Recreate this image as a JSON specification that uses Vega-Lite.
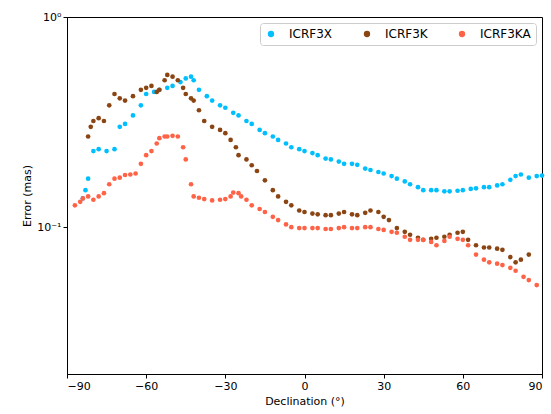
{
  "$schema": "https://vega.github.io/schema/vega-lite/v6.json",
  "width": 475,
  "height": 357,
  "autosize": {"type": "none"},
  "padding": {"left": 67, "top": 17, "right": 9, "bottom": 40},
  "background": "white",
  "datasets": {
    "x": [{"d":-84,"e":0.137},{"d":-83,"e":0.15},{"d":-82,"e":0.17},{"d":-80,"e":0.23},{"d":-78,"e":0.235},{"d":-75,"e":0.23},{"d":-72,"e":0.235},{"d":-70,"e":0.3},{"d":-68,"e":0.31},{"d":-65,"e":0.34},{"d":-62,"e":0.38},{"d":-60,"e":0.43},{"d":-57,"e":0.44},{"d":-55,"e":0.45},{"d":-52,"e":0.46},{"d":-50,"e":0.47},{"d":-47,"e":0.49},{"d":-45,"e":0.51},{"d":-43,"e":0.52},{"d":-42,"e":0.5},{"d":-40,"e":0.45},{"d":-37,"e":0.42},{"d":-35,"e":0.4},{"d":-32,"e":0.38},{"d":-30,"e":0.37},{"d":-27,"e":0.35},{"d":-25,"e":0.34},{"d":-22,"e":0.32},{"d":-20,"e":0.31},{"d":-17,"e":0.29},{"d":-15,"e":0.28},{"d":-12,"e":0.27},{"d":-10,"e":0.26},{"d":-7,"e":0.25},{"d":-5,"e":0.24},{"d":-2,"e":0.235},{"d":0,"e":0.23},{"d":3,"e":0.225},{"d":5,"e":0.22},{"d":8,"e":0.212},{"d":10,"e":0.21},{"d":13,"e":0.205},{"d":15,"e":0.2},{"d":18,"e":0.2},{"d":20,"e":0.198},{"d":23,"e":0.19},{"d":25,"e":0.187},{"d":28,"e":0.183},{"d":30,"e":0.18},{"d":33,"e":0.175},{"d":35,"e":0.17},{"d":38,"e":0.165},{"d":40,"e":0.16},{"d":43,"e":0.155},{"d":45,"e":0.15},{"d":48,"e":0.15},{"d":50,"e":0.15},{"d":53,"e":0.148},{"d":55,"e":0.148},{"d":58,"e":0.149},{"d":60,"e":0.15},{"d":63,"e":0.152},{"d":65,"e":0.153},{"d":68,"e":0.155},{"d":70,"e":0.155},{"d":73,"e":0.158},{"d":75,"e":0.16},{"d":78,"e":0.168},{"d":80,"e":0.175},{"d":82,"e":0.178},{"d":85,"e":0.172},{"d":88,"e":0.175},{"d":90,"e":0.176}],
    "k": [{"d":-82,"e":0.27},{"d":-81,"e":0.3},{"d":-80,"e":0.32},{"d":-78,"e":0.33},{"d":-76,"e":0.32},{"d":-74,"e":0.38},{"d":-72,"e":0.43},{"d":-70,"e":0.41},{"d":-68,"e":0.4},{"d":-65,"e":0.42},{"d":-62,"e":0.45},{"d":-60,"e":0.46},{"d":-58,"e":0.47},{"d":-56,"e":0.44},{"d":-55,"e":0.45},{"d":-53,"e":0.5},{"d":-52,"e":0.53},{"d":-50,"e":0.52},{"d":-48,"e":0.5},{"d":-46,"e":0.46},{"d":-45,"e":0.43},{"d":-43,"e":0.41},{"d":-42,"e":0.4},{"d":-40,"e":0.36},{"d":-38,"e":0.32},{"d":-35,"e":0.3},{"d":-32,"e":0.29},{"d":-30,"e":0.28},{"d":-28,"e":0.26},{"d":-26,"e":0.24},{"d":-25,"e":0.22},{"d":-22,"e":0.21},{"d":-20,"e":0.197},{"d":-18,"e":0.185},{"d":-15,"e":0.167},{"d":-12,"e":0.15},{"d":-10,"e":0.14},{"d":-7,"e":0.132},{"d":-5,"e":0.127},{"d":-2,"e":0.12},{"d":0,"e":0.118},{"d":3,"e":0.116},{"d":5,"e":0.115},{"d":8,"e":0.114},{"d":10,"e":0.114},{"d":13,"e":0.116},{"d":15,"e":0.118},{"d":18,"e":0.115},{"d":20,"e":0.114},{"d":23,"e":0.117},{"d":25,"e":0.12},{"d":28,"e":0.118},{"d":30,"e":0.112},{"d":32,"e":0.108},{"d":35,"e":0.099},{"d":38,"e":0.095},{"d":40,"e":0.092},{"d":43,"e":0.089},{"d":45,"e":0.087},{"d":48,"e":0.088},{"d":50,"e":0.089},{"d":53,"e":0.09},{"d":55,"e":0.092},{"d":58,"e":0.094},{"d":60,"e":0.095},{"d":62,"e":0.087},{"d":65,"e":0.082},{"d":68,"e":0.08},{"d":70,"e":0.08},{"d":73,"e":0.079},{"d":75,"e":0.078},{"d":78,"e":0.072},{"d":80,"e":0.068},{"d":82,"e":0.07},{"d":85,"e":0.074}],
    "ka": [{"d":-87,"e":0.127},{"d":-85,"e":0.132},{"d":-84,"e":0.137},{"d":-82,"e":0.14},{"d":-80,"e":0.135},{"d":-78,"e":0.14},{"d":-76,"e":0.145},{"d":-74,"e":0.16},{"d":-72,"e":0.17},{"d":-70,"e":0.172},{"d":-68,"e":0.177},{"d":-66,"e":0.178},{"d":-64,"e":0.18},{"d":-62,"e":0.2},{"d":-60,"e":0.22},{"d":-58,"e":0.23},{"d":-56,"e":0.25},{"d":-55,"e":0.265},{"d":-53,"e":0.27},{"d":-52,"e":0.27},{"d":-50,"e":0.272},{"d":-48,"e":0.27},{"d":-46,"e":0.24},{"d":-45,"e":0.21},{"d":-43,"e":0.16},{"d":-42,"e":0.14},{"d":-40,"e":0.138},{"d":-38,"e":0.136},{"d":-35,"e":0.134},{"d":-32,"e":0.135},{"d":-30,"e":0.136},{"d":-28,"e":0.14},{"d":-27,"e":0.146},{"d":-25,"e":0.145},{"d":-24,"e":0.14},{"d":-22,"e":0.135},{"d":-20,"e":0.127},{"d":-17,"e":0.122},{"d":-15,"e":0.118},{"d":-12,"e":0.112},{"d":-10,"e":0.108},{"d":-7,"e":0.103},{"d":-5,"e":0.1},{"d":-2,"e":0.099},{"d":0,"e":0.099},{"d":3,"e":0.099},{"d":5,"e":0.099},{"d":8,"e":0.098},{"d":10,"e":0.098},{"d":13,"e":0.099},{"d":15,"e":0.1},{"d":18,"e":0.099},{"d":20,"e":0.099},{"d":23,"e":0.1},{"d":25,"e":0.1},{"d":28,"e":0.098},{"d":30,"e":0.097},{"d":33,"e":0.095},{"d":35,"e":0.094},{"d":38,"e":0.09},{"d":40,"e":0.087},{"d":43,"e":0.087},{"d":45,"e":0.087},{"d":48,"e":0.085},{"d":50,"e":0.082},{"d":53,"e":0.086},{"d":55,"e":0.09},{"d":58,"e":0.088},{"d":60,"e":0.087},{"d":62,"e":0.082},{"d":65,"e":0.074},{"d":68,"e":0.07},{"d":70,"e":0.068},{"d":73,"e":0.067},{"d":75,"e":0.066},{"d":78,"e":0.064},{"d":80,"e":0.062},{"d":83,"e":0.058},{"d":85,"e":0.056},{"d":88,"e":0.053}]
  },
  "encoding": {
    "x": {"field": "d", "type": "quantitative", "title": "Declination (°)",
      "scale": {"domain": [-90, 90], "nice": false},
      "axis": {"values": [-90, -60, -30, 0, 30, 60, 90], "grid": false}},
    "y": {"field": "e", "type": "quantitative", "title": "Error (mas)",
      "scale": {"type": "log", "domain": [0.02, 1], "nice": false},
      "axis": {"values": [0.1, 1], "grid": false, "labelExpr": "datum.value == 1 ? '10⁰' : '10⁻¹'"}},
    "color": {"field": "s", "type": "nominal", "title": null,
      "scale": {"domain": ["ICRF3X", "ICRF3K", "ICRF3KA"], "range": ["#00BFFF", "#8B4513", "#FF6347"]},
      "legend": {"orient": "top-right", "offset": 6, "direction": "horizontal", "strokeColor": "#cccccc", "padding": 5, "cornerRadius": 3, "fillColor": "white", "symbolType": "circle", "symbolSize": 40, "labelFontSize": 12, "columnPadding": 28, "labelOffset": 12}}
  },
  "layer": [
    {"data": {"name": "x"}, "transform": [{"calculate": "'ICRF3X'", "as": "s"}], "mark": {"type": "point", "filled": true, "size": 22, "opacity": 1}},
    {"data": {"name": "k"}, "transform": [{"calculate": "'ICRF3K'", "as": "s"}], "mark": {"type": "point", "filled": true, "size": 22, "opacity": 1}},
    {"data": {"name": "ka"}, "transform": [{"calculate": "'ICRF3KA'", "as": "s"}], "mark": {"type": "point", "filled": true, "size": 22, "opacity": 1}}
  ],
  "config": {
    "font": "DejaVu Sans",
    "view": {"stroke": "black"},
    "axis": {"domainColor": "black", "tickColor": "black", "labelColor": "black", "titleColor": "black", "labelFontSize": 11, "titleFontSize": 11, "titleFontWeight": "normal", "labelFont": "DejaVu Sans", "titleFont": "DejaVu Sans", "tickSize": 4}
  }
}
